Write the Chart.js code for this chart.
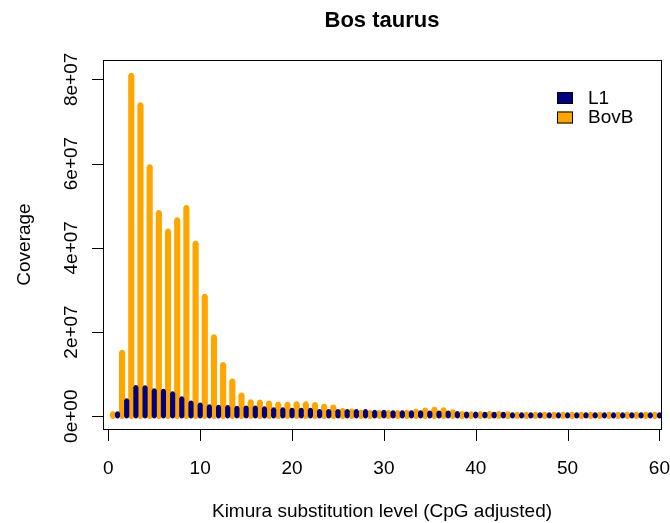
<!DOCTYPE html>
<html>
<head>
<meta charset="utf-8">
<script src="https://cdn.jsdelivr.net/npm/chart.js@4"></script>
<style>
  html, body { margin: 0; padding: 0; background: #fff; }
</style>
</head>
<body>
<canvas id="chart" width="670" height="523"></canvas>
<script>
// Kimura levels (bins) and coverage per repeat family
const levels = [1, 2, 3, 4, 5, 6, 7, 8, 9, 10,
  11, 12, 13, 14, 15, 16, 17, 18, 19, 20,
  21, 22, 23, 24, 25, 26, 27, 28, 29, 30,
  31, 32, 33, 34, 35, 36, 37, 38, 39, 40,
  41, 42, 43, 44, 45, 46, 47, 48, 49, 50,
  51, 52, 53, 54, 55, 56, 57, 58, 59, 60];

const l1Coverage = [0.67e6, 3.75e6, 6.9e6, 6.8e6, 6.1e6, 6.0e6, 5.4e6, 4.2e6, 3.2e6, 2.7e6,
  2.3e6, 2.2e6, 2.1e6, 1.95e6, 2.0e6, 2.0e6, 1.8e6, 1.6e6, 1.6e6, 1.5e6,
  1.5e6, 1.5e6, 1.2e6, 1.2e6, 1.2e6, 1.2e6, 1.2e6, 1.2e6, 1.0e6, 1.0e6,
  0.9e6, 0.9e6, 0.9e6, 0.9e6, 0.8e6, 0.8e6, 0.8e6, 0.7e6, 0.6e6, 0.6e6,
  0.5e6, 0.5e6, 0.5e6, 0.4e6, 0.4e6, 0.4e6, 0.4e6, 0.4e6, 0.4e6, 0.4e6,
  0.4e6, 0.4e6, 0.4e6, 0.4e6, 0.4e6, 0.4e6, 0.4e6, 0.4e6, 0.4e6, 0.4e6];

const bovbCoverage = [0.5e6, 15.1e6, 80.9e6, 73.9e6, 59.2e6, 48.3e6, 43.9e6, 46.6e6, 49.5e6, 41.0e6,
  28.4e6, 18.8e6, 12.2e6, 8.3e6, 5.0e6, 3.4e6, 3.3e6, 3.1e6, 2.8e6, 2.8e6,
  2.9e6, 2.9e6, 2.7e6, 2.3e6, 2.1e6, 1.3e6, 1.2e6, 0.9e6, 0.8e6, 0.8e6,
  0.8e6, 0.8e6, 0.9e6, 1.1e6, 1.4e6, 1.6e6, 1.5e6, 1.0e6, 0.6e6, 0.5e6,
  0.5e6, 0.6e6, 0.6e6, 0.5e6, 0.4e6, 0.4e6, 0.4e6, 0.4e6, 0.4e6, 0.4e6,
  0.4e6, 0.4e6, 0.4e6, 0.4e6, 0.4e6, 0.4e6, 0.4e6, 0.4e6, 0.4e6, 0.4e6];

const xTicks = [0, 10, 20, 30, 40, 50, 60];
const yTicks = [0, 2e7, 4e7, 6e7, 8e7];
const yTickLabels = ['0e+00', '2e+07', '4e+07', '6e+07', '8e+07'];

const FONT = '"Liberation Sans", Arial, Helvetica, sans-serif';

// R-like decorations: round line ends, box, ticks, rotated y labels, title, legend
const rPlot = {
  id: 'rPlot',
  afterDatasetDraw(chart, args) {
    const ctx = chart.ctx;
    const area = chart.chartArea;
    const ds = chart.data.datasets[args.index];
    const r = ds.barThickness / 2;
    ctx.save();
    ctx.beginPath();
    ctx.rect(area.left, area.top, area.right - area.left, area.bottom - area.top);
    ctx.clip();
    ctx.fillStyle = ds.backgroundColor;
    args.meta.data.forEach(el => {
      ctx.beginPath();
      ctx.arc(el.x, el.y, r, 0, Math.PI * 2);
      ctx.arc(el.x, el.base, r, 0, Math.PI * 2);
      ctx.fill();
    });
    ctx.restore();
  },
  afterDraw(chart) {
    const ctx = chart.ctx;
    const a = chart.chartArea;
    const xs = chart.scales.x;
    const ys = chart.scales.y;
    ctx.save();
    ctx.strokeStyle = '#000';
    ctx.lineWidth = 1;
    ctx.strokeRect(Math.round(a.left) + 0.5, Math.round(a.top) + 0.5,
      Math.round(a.right - a.left), Math.round(a.bottom - a.top));

    ctx.beginPath();
    xTicks.forEach(v => {
      const px = Math.round(xs.getPixelForValue(v)) + 0.5;
      ctx.moveTo(px, Math.round(a.bottom) + 0.5);
      ctx.lineTo(px, Math.round(a.bottom) + 12);
    });
    yTicks.forEach(v => {
      const py = Math.round(ys.getPixelForValue(v)) + 0.5;
      ctx.moveTo(Math.round(a.left) + 0.5, py);
      ctx.lineTo(Math.round(a.left) - 11, py);
    });
    ctx.stroke();

    ctx.fillStyle = '#000';
    ctx.font = '19px ' + FONT;
    ctx.textAlign = 'center';
    ctx.textBaseline = 'middle';
    yTicks.forEach((v, i) => {
      ctx.save();
      ctx.translate(72, ys.getPixelForValue(v));
      ctx.rotate(-Math.PI / 2);
      ctx.fillText(yTickLabels[i], 0, 0);
      ctx.restore();
    });

    ctx.font = 'bold 22px ' + FONT;
    ctx.fillText('Bos taurus', (a.left + a.right) / 2, 21);

    // legend
    const items = [['L1', 'navy'], ['BovB', 'orange']];
    ctx.font = '19px ' + FONT;
    ctx.textAlign = 'left';
    items.forEach((it, i) => {
      const y = 92 + i * 19.5;
      ctx.fillStyle = it[1];
      ctx.fillRect(a.right - 104, y, 16, 12);
      ctx.strokeStyle = '#000';
      ctx.strokeRect(a.right - 104 + 0.5, y + 0.5, 15, 11);
      ctx.fillStyle = '#000';
      ctx.fillText(it[0], a.right - 73, y + 6.5);
    });
    ctx.restore();
  }
};

new Chart(document.getElementById('chart'), {
  type: 'bar',
  data: {
    datasets: [
      {
        label: 'L1',
        data: levels.map((x, i) => ({ x: x, y: l1Coverage[i] })),
        backgroundColor: 'navy',
        barThickness: 4.5
      },
      {
        label: 'BovB',
        data: levels.map((x, i) => ({ x: x - 0.5, y: bovbCoverage[i] })),
        backgroundColor: 'orange',
        barThickness: 5.5
      }
    ]
  },
  options: {
    responsive: false,
    animation: false,
    devicePixelRatio: 1,
    layout: { padding: { top: 60, right: 9, left: 0, bottom: 0 } },
    datasets: { bar: { grouped: false, borderWidth: 0 } },
    plugins: {
      legend: { display: false },
      tooltip: { enabled: false },
      title: { display: false }
    },
    scales: {
      x: {
        type: 'linear',
        min: -0.58,
        max: 60.17,
        offset: false,
        afterFit: s => { s.height = 94; s.paddingLeft = 0; s.paddingRight = 0; },
        afterBuildTicks: s => { s.ticks = xTicks.map(v => ({ value: v })); },
        grid: { display: false, drawTicks: true, tickLength: 11 },
        border: { display: false },
        ticks: {
          color: '#000',
          font: { family: FONT, size: 19 },
          padding: 17,
          maxRotation: 0,
          autoSkip: false
        },
        title: {
          display: true,
          text: 'Kimura substitution level (CpG adjusted)',
          color: '#000',
          font: { family: FONT, size: 19 },
          padding: { top: 0, bottom: 0 }
        }
      },
      y: {
        type: 'linear',
        min: -3.04e6,
        max: 84.6e6,
        afterFit: s => { s.width = 103; s.paddingTop = 0; s.paddingBottom = 0; },
        afterBuildTicks: s => { s.ticks = yTicks.map(v => ({ value: v })); },
        grid: { display: false },
        border: { display: false },
        ticks: { display: false },
        title: {
          display: true,
          text: 'Coverage',
          color: '#000',
          font: { family: FONT, size: 19 },
          padding: { top: 13, bottom: 0 }
        }
      }
    }
  },
  plugins: [rPlot]
});
</script>
</body>
</html>
